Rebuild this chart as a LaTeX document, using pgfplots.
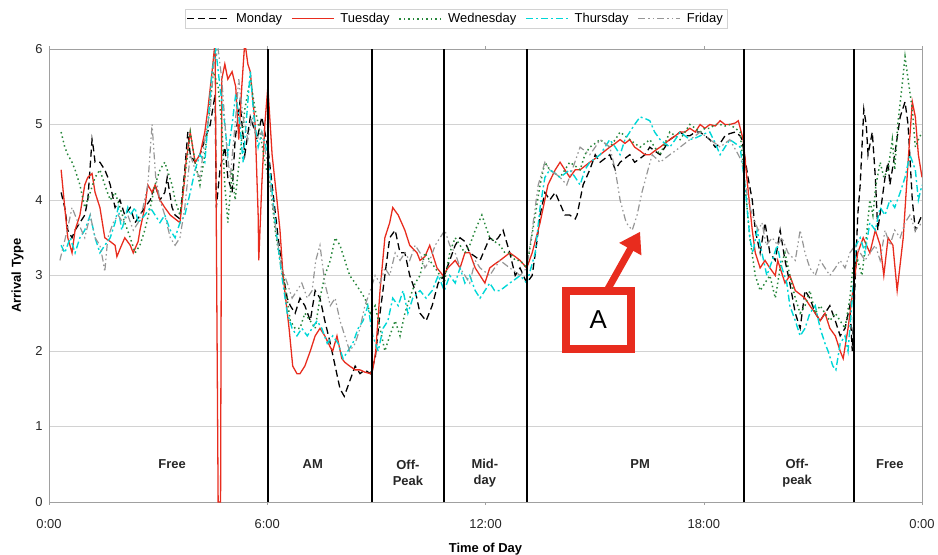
\documentclass[border=0pt]{standalone}
\usepackage{fontspec}
\setmainfont{Liberation Sans}
\usepackage{pgfplots}
\pgfplotsset{compat=1.18}
\usetikzlibrary{arrows.meta}
\definecolor{tueRed}{RGB}{232,44,30}
\definecolor{wedGreen}{RGB}{40,135,60}
\definecolor{thuCyan}{RGB}{0,215,215}
\definecolor{friGray}{RGB}{150,150,150}
\definecolor{frameGray}{RGB}{160,160,160}
\begin{document}
\begin{tikzpicture}
\begin{axis}[
    scale only axis,
    width=873bp, height=453bp,
    xmin=0, xmax=1440, ymin=0, ymax=6,
    xtick={0,360,720,1080,1440},
    xticklabels={0:00,6:00,12:00,18:00,0:00},
    ytick={0,1,2,3,4,5,6},
    ymajorgrids, grid style={gray!35, line width=0.6pt},
    axis line style={frameGray, line width=0.8pt},
    major tick length=3pt, tick align=outside,
    xtick style={frameGray}, ytick style={draw=none},
    /pgf/number format/assume math mode=true,
    ticklabel style={font=\fontsize{13}{15}\selectfont, text=black!85},
    xticklabel style={yshift=-11bp},
    xlabel={\textbf{Time of Day}},
    ylabel={\textbf{Arrival Type}},
    label style={font=\fontsize{13}{15}\selectfont},
    xlabel style={yshift=-8bp},
    ylabel style={yshift=5bp},
    legend columns=5,
    legend style={at={(0.466,1.088)}, anchor=north, draw=gray!35,
        font=\fontsize{13}{15}\selectfont, inner sep=2bp,
        /tikz/every even column/.append style={column sep=7bp}},
    legend image code/.code={\draw[#1] (0bp,0bp) -- (42bp,0bp);},
]
% Monday
\addplot[black, line width=1.3pt, dash pattern=on 7bp off 4bp] coordinates {
(20,4.1)(26,3.9)(31,3.6)(38,3.5)(43,3.6)(51,3.7)(59,3.8)(64,4.0)(71,4.8)(73,4.7)(76,4.5)(84,4.5)(92,4.4)(97,4.3)(101,4.2)(109,3.9)(117,4.0)(125,3.8)(134,3.9)(142,3.7)(150,3.8)(158,3.9)(167,4.0)(175,4.2)(183,4.0)(191,4.1)(195,4.3)(203,3.9)(208,3.8)(216,3.75)(224,4.4)(229,4.9)(233,4.6)(241,4.5)(249,4.6)(257,4.8)(266,5.0)(274,5.4)(276,3.9)(282,4.4)(290,4.7)(295,4.3)(302,4.1)(307,4.8)(315,5.3)(323,4.6)(332,5.1)(340,4.9)(343,4.8)(351,5.1)(356,4.9)(361,4.7)(368,4.2)(378,3.5)(386,3.0)(393,2.7)(398,2.6)(406,2.5)(414,2.7)(422,2.6)(431,2.4)(439,2.8)(447,2.7)(455,2.4)(464,2.1)(472,1.8)(480,1.5)(487,1.4)(496,1.6)(505,1.8)(513,1.7)(521,1.75)(530,1.7)(538,1.9)(546,2.5)(554,3.0)(562,3.5)(571,3.6)(579,3.3)(587,3.3)(595,3.0)(604,2.8)(612,2.5)(622,2.4)(632,2.6)(642,2.9)(652,3.0)(661,3.2)(670,3.4)(678,3.5)(686,3.45)(694,3.3)(703,3.25)(711,3.2)(719,3.35)(727,3.5)(735,3.45)(741,3.5)(749,3.6)(760,3.3)(769,3.0)(777,3.1)(788,2.9)(797,3.0)(804,3.4)(810,3.8)(818,4.1)(826,4.0)(835,4.1)(843,3.95)(851,3.8)(859,3.8)(868,3.75)(871,3.8)(881,4.2)(892,4.4)(901,4.6)(909,4.5)(917,4.55)(925,4.6)(934,4.4)(942,4.5)(950,4.55)(958,4.6)(966,4.5)(975,4.55)(983,4.6)(991,4.7)(999,4.65)(1008,4.6)(1016,4.7)(1024,4.8)(1033,4.85)(1041,4.9)(1049,4.85)(1057,4.85)(1066,4.9)(1074,4.9)(1082,4.85)(1090,4.8)(1099,4.7)(1107,4.75)(1115,4.85)(1123,4.88)(1132,4.9)(1140,4.85)(1143,4.8)(1153,4.3)(1160,4.0)(1165,3.6)(1173,3.3)(1181,3.7)(1189,3.3)(1198,3.2)(1206,3.6)(1214,3.2)(1222,2.9)(1231,2.5)(1239,2.3)(1247,2.8)(1255,2.7)(1264,2.5)(1272,2.4)(1280,2.5)(1288,2.6)(1297,2.4)(1305,2.2)(1313,2.3)(1321,2.6)(1325,2.0)(1330,3.0)(1334,3.8)(1338,4.2)(1344,5.2)(1348,5.0)(1351,4.6)(1358,4.9)(1363,4.3)(1367,3.6)(1374,4.0)(1379,4.3)(1384,4.5)(1387,4.2)(1395,4.6)(1404,5.1)(1412,5.3)(1417,5.0)(1424,4.0)(1429,3.6)(1440,3.8)
};
\addlegendentry{\hspace{4bp}Monday}
% Tuesday
\addplot[tueRed, line width=1.3pt] coordinates {
(20,4.4)(26,3.9)(31,3.5)(38,3.3)(43,3.6)(51,3.8)(59,4.2)(64,4.3)(71,4.35)(76,4.1)(84,3.9)(92,3.5)(101,3.45)(109,3.4)(112,3.25)(117,3.35)(125,3.5)(134,3.4)(139,3.3)(147,3.45)(150,3.6)(158,3.9)(163,4.2)(170,4.1)(175,4.2)(183,4.0)(191,3.9)(200,3.8)(208,3.75)(216,3.7)(224,4.3)(226,4.5)(233,4.9)(241,4.5)(249,4.6)(257,4.9)(262,5.2)(269,5.7)(274,6.1)(279,0)(283,0)(285,5.6)(290,5.8)(295,5.6)(302,5.7)(308,5.5)(313,4.8)(318,5.5)(323,6.1)(328,5.8)(332,5.7)(340,5.0)(345,3.8)(346,3.2)(351,4.2)(356,5.0)(361,5.5)(368,4.6)(376,4.0)(381,3.6)(386,3.0)(396,2.3)(402,1.8)(409,1.7)(414,1.7)(422,1.8)(431,2.0)(439,2.2)(447,2.3)(455,2.2)(464,2.05)(468,2.0)(475,2.2)(483,1.9)(488,1.85)(496,1.8)(505,1.75)(513,1.75)(521,1.72)(530,1.7)(534,1.75)(539,2.0)(546,2.8)(554,3.5)(562,3.7)(567,3.9)(576,3.8)(587,3.6)(595,3.4)(607,3.3)(612,3.2)(620,3.25)(628,3.4)(640,3.1)(650,3.0)(658,3.1)(670,3.2)(678,3.1)(686,3.3)(694,3.3)(703,3.1)(711,3.0)(719,2.9)(727,3.1)(735,3.15)(744,3.2)(752,3.25)(760,3.3)(769,3.25)(777,3.2)(788,3.1)(797,3.3)(810,3.7)(823,4.2)(835,4.4)(843,4.5)(851,4.4)(859,4.3)(868,4.4)(876,4.4)(884,4.45)(892,4.5)(901,4.55)(909,4.6)(917,4.65)(925,4.7)(934,4.75)(942,4.8)(950,4.75)(958,4.8)(966,4.7)(975,4.65)(983,4.6)(991,4.6)(999,4.65)(1008,4.7)(1016,4.75)(1024,4.8)(1033,4.85)(1041,4.9)(1049,4.9)(1057,4.95)(1066,4.9)(1074,5.0)(1082,4.95)(1090,5.0)(1099,4.98)(1107,5.05)(1115,5.0)(1123,5.0)(1132,5.02)(1137,5.05)(1145,4.8)(1151,4.3)(1160,3.6)(1165,3.3)(1173,3.1)(1181,3.2)(1189,3.1)(1198,3.0)(1202,3.2)(1214,2.9)(1222,3.0)(1231,2.8)(1239,2.75)(1247,2.7)(1255,2.6)(1264,2.5)(1272,2.4)(1280,2.5)(1288,2.3)(1297,2.2)(1305,2.0)(1310,1.9)(1318,2.3)(1326,2.8)(1334,3.3)(1343,3.5)(1354,3.3)(1363,3.6)(1371,3.4)(1377,3.0)(1384,3.5)(1392,3.4)(1399,2.8)(1409,3.5)(1417,4.5)(1424,5.3)(1429,5.1)(1434,4.6)(1440,4.3)
};
\addlegendentry{\hspace{4bp}Tuesday}
% Wednesday
\addplot[wedGreen, line width=1.5pt, dash pattern=on 1.5bp off 3bp] coordinates {
(20,4.9)(26,4.7)(31,4.6)(38,4.5)(43,4.4)(51,4.2)(59,3.9)(68,4.1)(76,4.3)(84,4.4)(92,4.2)(101,4.0)(109,4.1)(117,3.9)(125,3.7)(134,3.5)(142,3.3)(150,3.4)(158,3.6)(167,3.9)(175,4.2)(183,4.4)(191,4.5)(195,4.4)(203,4.2)(208,4.0)(216,3.8)(224,4.3)(233,4.9)(241,4.5)(249,4.2)(257,4.6)(266,5.3)(271,5.7)(279,5.5)(285,5.0)(290,4.2)(295,3.7)(302,4.4)(307,4.0)(315,4.6)(323,5.2)(332,5.6)(340,5.2)(348,4.9)(356,4.5)(365,4.2)(373,3.6)(381,3.2)(389,2.9)(398,2.4)(406,2.3)(414,2.3)(422,2.5)(431,2.4)(439,2.3)(447,2.7)(455,3.0)(464,3.2)(472,3.5)(480,3.4)(488,3.2)(496,3.0)(505,2.9)(513,2.8)(521,2.7)(530,2.5)(538,2.6)(546,2.3)(554,2.0)(562,2.2)(571,2.4)(579,2.2)(587,2.5)(595,2.7)(604,2.9)(612,3.0)(620,3.3)(628,3.2)(637,3.1)(645,3.0)(652,2.9)(661,3.3)(670,3.5)(678,3.4)(686,3.3)(694,3.4)(703,3.6)(714,3.8)(727,3.5)(735,3.45)(744,3.4)(752,3.3)(760,3.3)(769,3.2)(777,3.2)(788,3.1)(798,3.6)(810,4.2)(818,4.5)(826,4.4)(835,4.35)(843,4.3)(851,4.4)(859,4.5)(868,4.45)(876,4.4)(884,4.6)(892,4.7)(901,4.75)(909,4.8)(917,4.75)(925,4.7)(934,4.8)(942,4.9)(950,4.85)(958,4.8)(966,4.75)(975,4.7)(983,4.75)(991,4.8)(999,4.7)(1008,4.6)(1016,4.75)(1024,4.9)(1033,4.85)(1041,4.8)(1049,4.9)(1057,5.0)(1066,4.95)(1074,4.9)(1082,4.95)(1090,4.95)(1099,5.0)(1107,5.0)(1115,4.98)(1123,5.0)(1132,4.95)(1140,4.9)(1148,4.2)(1156,3.5)(1165,3.0)(1173,2.8)(1181,2.9)(1189,3.0)(1198,2.7)(1206,3.1)(1214,3.3)(1222,3.0)(1231,2.7)(1239,2.5)(1247,2.6)(1255,2.8)(1264,2.5)(1272,2.6)(1280,2.5)(1288,2.4)(1297,2.5)(1305,2.4)(1313,2.3)(1321,2.7)(1326,3.1)(1334,3.2)(1341,3.0)(1348,3.5)(1354,4.0)(1359,3.8)(1364,4.2)(1371,4.5)(1377,4.3)(1384,4.4)(1391,4.8)(1395,4.4)(1400,5.0)(1407,5.5)(1412,5.9)(1417,5.6)(1424,5.2)(1429,4.7)(1434,4.8)(1440,4.9)
};
\addlegendentry{\hspace{4bp}Wednesday}
% Thursday
\addplot[thuCyan, line width=1.4pt, dash pattern=on 7bp off 3bp on 2bp off 3bp] coordinates {
(20,3.4)(26,3.3)(35,3.5)(43,3.3)(51,3.5)(59,3.6)(68,3.8)(76,3.5)(84,3.3)(92,3.4)(101,3.5)(109,3.7)(114,3.9)(120,3.6)(130,3.9)(134,3.8)(142,3.9)(147,3.7)(158,3.8)(167,3.9)(175,3.8)(183,3.7)(191,3.8)(200,3.6)(208,3.5)(216,3.7)(224,3.8)(233,4.1)(241,4.4)(249,4.6)(257,4.5)(262,5.0)(269,5.7)(275,6.0)(282,5.5)(290,5.0)(295,4.6)(302,5.0)(308,5.4)(315,5.0)(320,4.5)(325,5.0)(332,5.7)(338,5.1)(345,4.7)(351,4.9)(361,4.6)(368,4.1)(376,3.5)(384,3.0)(393,2.5)(401,2.3)(409,2.2)(417,2.3)(426,2.2)(434,2.3)(442,2.4)(450,2.3)(459,2.1)(468,2.2)(477,2.1)(485,1.9)(493,2.0)(501,2.1)(510,2.3)(518,2.4)(526,2.6)(534,2.2)(543,2.0)(551,2.3)(559,2.4)(567,2.7)(576,2.6)(584,2.8)(592,2.5)(600,2.7)(612,2.8)(622,2.7)(632,2.8)(642,3.0)(652,2.8)(661,3.0)(670,2.9)(678,3.1)(686,2.9)(694,3.0)(703,2.8)(711,2.7)(719,2.8)(727,2.9)(735,2.8)(744,2.8)(752,2.85)(760,2.9)(769,2.95)(777,3.0)(788,2.9)(802,3.3)(810,3.9)(818,4.3)(826,4.4)(835,4.35)(843,4.3)(851,4.35)(859,4.4)(868,4.3)(876,4.2)(884,4.4)(892,4.5)(901,4.55)(909,4.6)(917,4.7)(925,4.8)(934,4.7)(942,4.6)(950,4.8)(958,4.9)(966,5.0)(975,5.1)(983,5.08)(991,5.05)(999,4.9)(1008,4.8)(1016,4.75)(1024,4.7)(1033,4.8)(1041,4.9)(1049,4.85)(1057,4.8)(1066,4.82)(1074,4.85)(1082,4.88)(1090,4.9)(1099,4.75)(1107,4.6)(1115,4.7)(1123,4.8)(1132,4.75)(1140,4.7)(1148,4.2)(1156,3.5)(1161,3.3)(1168,3.6)(1176,3.3)(1184,3.0)(1193,3.2)(1201,3.4)(1209,3.1)(1217,2.9)(1222,2.6)(1231,2.4)(1239,2.2)(1247,2.3)(1255,2.5)(1264,2.6)(1272,2.3)(1280,2.1)(1285,2.0)(1293,1.8)(1298,1.75)(1305,2.1)(1313,2.2)(1318,2.0)(1325,2.7)(1331,3.4)(1338,3.5)(1346,3.3)(1354,3.7)(1363,3.6)(1371,3.9)(1379,3.8)(1387,4.0)(1395,3.9)(1404,4.1)(1412,4.3)(1420,4.6)(1429,4.4)(1434,4.0)(1440,4.2)
};
\addlegendentry{\hspace{4bp}Thursday}
% Friday
\addplot[friGray, line width=1.2pt, dash pattern=on 7bp off 3bp on 1.5bp off 3bp on 1.5bp off 3bp] coordinates {
(18,3.2)(30,3.6)(38,3.9)(48,3.7)(59,3.5)(68,3.8)(76,3.5)(84,3.4)(89,3.2)(92,3.05)(97,3.5)(106,3.7)(114,3.8)(122,3.7)(130,3.8)(139,3.6)(147,3.7)(155,3.9)(163,4.2)(170,5.0)(176,4.3)(183,4.0)(191,3.8)(200,3.5)(208,3.4)(216,3.5)(224,3.9)(233,4.6)(241,4.4)(249,4.3)(257,4.8)(266,5.2)(272,5.8)(279,6.0)(285,5.6)(294,4.6)(299,4.3)(307,5.0)(313,5.6)(320,5.1)(328,4.8)(335,5.1)(343,4.8)(351,4.9)(360,4.5)(368,4.0)(376,3.5)(384,3.1)(393,2.9)(401,2.7)(409,2.8)(417,2.9)(426,2.7)(434,2.8)(440,3.2)(447,3.4)(455,2.9)(464,2.6)(472,2.7)(480,2.4)(488,2.2)(496,2.0)(505,2.1)(513,2.3)(521,2.6)(530,2.8)(538,3.0)(546,2.9)(554,3.1)(562,3.0)(571,3.3)(579,3.2)(587,3.3)(595,3.2)(604,3.4)(612,3.3)(620,3.1)(628,3.2)(637,3.4)(645,3.5)(653,3.6)(661,3.4)(670,3.3)(678,3.1)(686,3.0)(694,2.9)(703,3.2)(711,3.1)(719,3.05)(727,3.0)(735,3.1)(744,3.2)(752,3.15)(760,3.1)(769,3.05)(777,3.0)(788,3.1)(797,3.6)(807,4.2)(818,4.5)(826,4.4)(835,4.35)(843,4.3)(854,4.2)(863,4.4)(876,4.7)(884,4.65)(892,4.6)(901,4.7)(909,4.8)(917,4.75)(925,4.7)(934,4.4)(942,4.0)(952,3.7)(962,3.6)(970,3.8)(978,4.1)(988,4.4)(995,4.6)(1008,4.5)(1016,4.55)(1024,4.6)(1033,4.65)(1041,4.7)(1049,4.75)(1057,4.8)(1066,4.85)(1074,4.9)(1082,4.85)(1090,4.8)(1099,4.75)(1107,4.7)(1115,4.75)(1123,4.8)(1137,4.6)(1143,4.5)(1153,4.0)(1160,3.8)(1170,3.6)(1176,3.7)(1183,3.4)(1193,3.5)(1202,3.4)(1209,3.5)(1219,3.3)(1231,3.2)(1239,3.6)(1247,3.3)(1255,3.1)(1264,3.0)(1272,3.2)(1280,3.1)(1288,3.0)(1297,3.1)(1305,3.2)(1313,3.1)(1321,3.3)(1330,3.4)(1338,3.3)(1346,3.2)(1354,3.3)(1363,3.4)(1371,3.2)(1379,3.6)(1387,3.4)(1395,3.6)(1404,3.5)(1412,3.7)(1420,3.8)(1429,3.6)(1440,3.7)
};
\addlegendentry{\hspace{4bp}Friday}
% period boundaries
\addplot[black, line width=2pt, forget plot] coordinates {(361,0)(361,6)};
\addplot[black, line width=2pt, forget plot] coordinates {(533,0)(533,6)};
\addplot[black, line width=2pt, forget plot] coordinates {(652,0)(652,6)};
\addplot[black, line width=2pt, forget plot] coordinates {(788,0)(788,6)};
\addplot[black, line width=2pt, forget plot] coordinates {(1146,0)(1146,6)};
\addplot[black, line width=2pt, forget plot] coordinates {(1328,0)(1328,6)};
% period labels
\begin{scope}[every node/.style={font=\fontsize{13}{16}\selectfont\bfseries, align=center, text=black!85}]
\node at (axis cs:203,0.5) {Free};
\node at (axis cs:435,0.5) {AM};
\node at (axis cs:592,0.38) {Off-\\Peak};
\node at (axis cs:719,0.38) {Mid-\\day};
\node at (axis cs:975,0.5) {PM};
\node at (axis cs:1234,0.38) {Off-\\peak};
\node at (axis cs:1387,0.5) {Free};
\end{scope}
% annotation A
\draw[tueRed, line width=7bp, -{Triangle[width=24bp,length=20bp]}] (axis cs:919,2.78) -- (axis cs:975,3.58);
\node[draw=tueRed, line width=8bp, fill=white, minimum width=65bp, minimum height=58bp, inner sep=0pt]
  at (axis cs:906,2.41) {\fontsize{26}{28}\selectfont A};
\end{axis}
\pgfresetboundingbox
\path (current axis.south west) ++(-49bp,-53bp) rectangle ++(938bp,555bp);
\end{tikzpicture}
\end{document}
